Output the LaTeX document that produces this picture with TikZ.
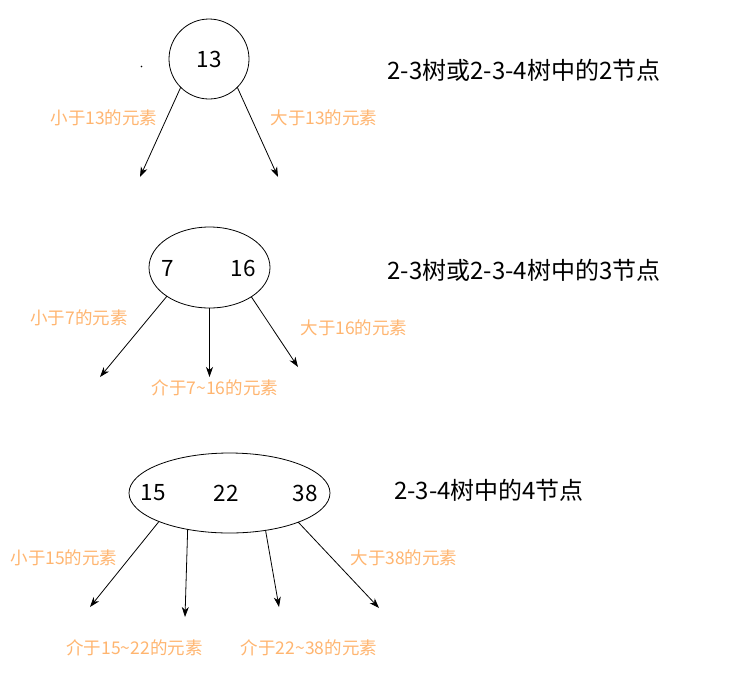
\documentclass[tikz,border=0pt]{standalone}
\usepackage{fontspec}
\setmainfont{Noto Sans CJK SC}
\usetikzlibrary{shapes.geometric,arrows.meta}
\definecolor{lblorange}{HTML}{FFB570}
\tikzset{
	keynum/.style={font=\fontsize{22.5}{22.5}\selectfont},
	lbl/.style={text=lblorange,font=\fontsize{17.5}{17.5}\selectfont},
	caption/.style={font=\fontsize{24}{24}\selectfont},
	treenode/.style={draw,line width=0.8pt,inner sep=0,outer sep=0},
	child/.style={-{Stealth[length=10pt,width=7pt,inset=3pt]},line width=0.8pt}
}
\begin{document}
\begin{tikzpicture}[x=1pt,y=-1pt]
	\useasboundingbox (0,0) rectangle (739,697);
	%2-node
	\node[treenode,circle,minimum size=80pt,keynum] (n13) at (209,59) {13};
	\fill (141.5,66.5) circle (0.8pt);
	\coordinate (a1) at (140,177);
	\coordinate (a2) at (278,177);
	\draw[child] (n13.225) -- (a1);
	\draw[child] (n13.315) -- (a2);
	\node[lbl] (lt13) at (104,118) {小于13的元素};
	\node[lbl] (gt13) at (324,118) {大于13的元素};
	\node[caption] (cap2) at (524,70) {2-3树或2-3-4树中的2节点};
	
	%3-node
	\node[treenode,ellipse,minimum width=121pt,minimum height=81pt] (e3) at (209.5,267.5) {};
	\node[keynum] (k7) at (168,268) {7};
	\node[keynum] (k16) at (243,268) {16};
	\coordinate (b1) at (100,377);
	\coordinate (b2) at (209.5,377);
	\coordinate (b3) at (298,367);
	\draw[child] (e3.214.8) -- (b1);
	\draw[child] (e3.south) -- (b2);
	\draw[child] (e3.325.2) -- (b3);
	\node[lbl] (lt7) at (79,318) {小于7的元素};
	\node[lbl] (in716) at (215,388) {介于7\textasciitilde16的元素};
	\node[lbl] (gt16) at (354,328) {大于16的元素};
	\node[caption] (cap3) at (524,270) {2-3树或2-3-4树中的3节点};
	
	%4-node
	\node[treenode,ellipse,minimum width=201pt,minimum height=80pt] (e4) at (229.5,493) {};
	\node[keynum] (k15) at (153,493) {15};
	\node[keynum] (k22) at (226,493) {22};
	\node[keynum] (k38) at (305,493) {38};
	\coordinate (c1) at (90,607);
	\coordinate (c2) at (185,617);
	\coordinate (c3) at (279,607);
	\coordinate (c4) at (379,608);
	\draw[child] (e4.202.8) -- (c1);
	\draw[child] (e4.221.9) -- (c2);
	\draw[child] (e4.314.6) -- (c3);
	\draw[child] (e4.337.5) -- (c4);
	\node[lbl] (lt15) at (64,558) {小于15的元素};
	\node[lbl] (in1522) at (134.5,648) {介于15\textasciitilde22的元素};
	\node[lbl] (in2238) at (309,648) {介于22\textasciitilde38的元素};
	\node[lbl] (gt38) at (404,558) {大于38的元素};
	\node[caption] (cap4) at (489,490) {2-3-4树中的4节点};
\end{tikzpicture}
\end{document}
